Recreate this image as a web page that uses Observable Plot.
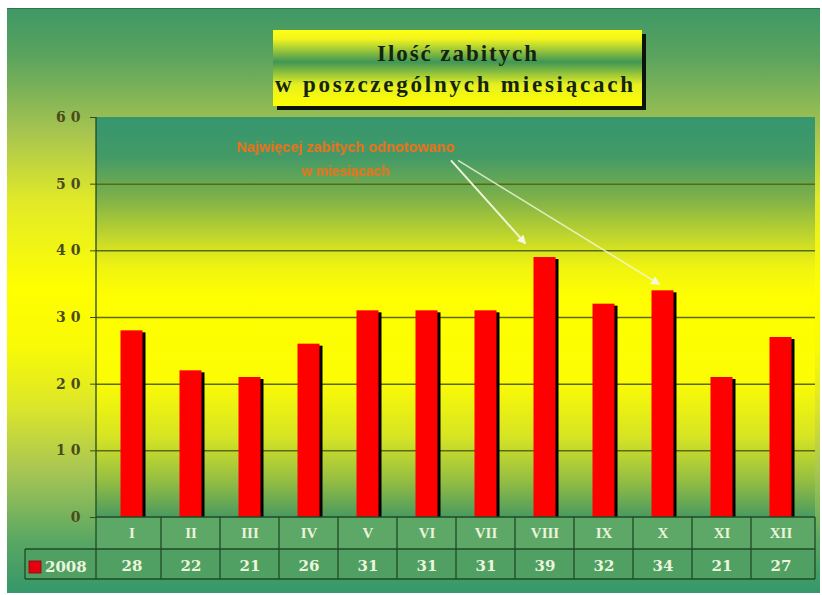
<!DOCTYPE html>
<html>
<head>
<meta charset="utf-8">
<script src="https://cdn.jsdelivr.net/npm/d3@7"></script>
<script src="https://cdn.jsdelivr.net/npm/@observablehq/plot@0.6"></script>
<style>
  html, body { margin: 0; padding: 0; background: #fff; }
  #chart { position: relative; width: 822px; height: 595px; overflow: hidden; background: #fff; }
  #panel {
    position: absolute; left: 7px; top: 8px; width: 813px; height: 585px;
    border-top: 1px solid #2e7650; box-sizing: border-box;
    background: linear-gradient(to bottom,
      #3f9866 0%, #5aa35e 8%, #a6c450 21%, #e2ea28 33%, #ffff00 48%,
      #f8fa06 58%, #dce62a 68%, #a8c653 79%, #5aa763 91%, #35976a 100%);
  }
  #plot, #title { position: absolute; left: 0; top: 0; }
</style>
</head>
<body>
<div id="chart">
  <div id="panel"></div>
  <div id="plot"></div>
  <svg id="title" width="822" height="120"></svg>
</div>
<script>
// Monthly road deaths, 2008
const months = ["I", "II", "III", "IV", "V", "VI", "VII", "VIII", "IX", "X", "XI", "XII"];
const killed2008 = [28, 22, 21, 26, 31, 31, 31, 39, 32, 34, 21, 27];
const yTicks = [0, 10, 20, 30, 40, 50, 60];
const seriesLabel = "2008";
const titleLines = ["Ilość zabitych", "w poszczególnych miesiącach"];
const noteLines = ["Najwięcej zabitych odnotowano", "w miesiącach"];
const noteTargets = ["VIII", "X"];

const data = months.map((month, i) => ({month, value: killed2008[i]}));

const serif = "'DejaVu Serif', serif";
const timesLike = "'Liberation Serif', serif";

// Yellow-green gradient behind the plotting area
function plotBackground(index, scales, values, dims) {
  const g = d3.create("svg:g");
  const grad = g.append("defs").append("linearGradient")
    .attr("id", "plot-bg").attr("x1", 0).attr("y1", 0).attr("x2", 0).attr("y2", 1);
  [[0, "#35966f"], [0.1, "#439a66"], [0.2, "#7cb04a"], [0.3, "#c2d62c"], [0.37, "#eef212"],
   [0.45, "#ffff00"], [0.66, "#fcfc04"], [0.8, "#d6e424"], [0.91, "#94bd42"], [1, "#4a9a60"]]
    .forEach(([o, c]) => grad.append("stop").attr("offset", o).attr("stop-color", c));
  g.append("rect")
    .attr("x", dims.marginLeft).attr("y", dims.marginTop)
    .attr("width", dims.width - dims.marginLeft - dims.marginRight)
    .attr("height", dims.height - dims.marginTop - dims.marginBottom)
    .attr("fill", "url(#plot-bg)");
  return g.node();
}

// Data table under the bars: month row, value row with the series key
function dataTable(index, scales, values, dims) {
  const g = d3.create("svg:g");
  const x = scales.x;
  const left = dims.marginLeft, right = dims.width - dims.marginRight;
  const top = scales.y(0), mid = top + 32, bottom = mid + 30, keyLeft = 25;
  g.append("rect").attr("x", left).attr("y", top).attr("width", right - left).attr("height", mid - top).attr("fill", "#5da866");
  g.append("rect").attr("x", keyLeft).attr("y", mid).attr("width", right - keyLeft).attr("height", bottom - mid).attr("fill", "#51a063");
  const line = (x1, y1, x2, y2) => g.append("line")
    .attr("x1", x1).attr("y1", y1).attr("x2", x2).attr("y2", y2)
    .attr("stroke", "#1f4a26").attr("stroke-width", 1.3);
  line(left, top, right, top);
  line(keyLeft, mid, right, mid);
  line(keyLeft, bottom, right, bottom);
  line(keyLeft, mid, keyLeft, bottom);
  months.forEach((m, i) => { if (i > 0) line(x(m), top, x(m), bottom); });
  line(right, top, right, bottom);
  line(left, dims.marginTop, left, bottom);
  // series key
  g.append("rect").attr("x", keyLeft + 4).attr("y", mid + 12).attr("width", 12).attr("height", 12)
    .attr("fill", "#e8000e").attr("stroke", "#8a0010").attr("stroke-width", 0.8);
  g.append("text").attr("x", keyLeft + 20).attr("y", mid + 17.5).attr("dy", "0.36em")
    .attr("text-anchor", "start")
    .attr("font-family", serif).attr("font-weight", "bold").attr("font-size", 15)
    .attr("fill", "#eaf5dc").text(seriesLabel);
  return g.node();
}

// Annotation pointing at the two highest months
function annotation(index, scales, values, dims) {
  const g = d3.create("svg:g");
  const x = scales.x, y = scales.y, bw = x.bandwidth();
  const defs = g.append("defs");
  defs.append("filter").attr("id", "soft").append("feGaussianBlur").attr("stdDeviation", 0.5);
  defs.append("marker").attr("id", "head").attr("viewBox", "0 0 10 10")
    .attr("refX", 9).attr("refY", 5).attr("markerWidth", 9).attr("markerHeight", 9)
    .attr("markerUnits", "userSpaceOnUse").attr("orient", "auto")
    .append("path").attr("d", "M0,0L10,5L0,10z").attr("fill", "#f2f9dc");
  const cx = x("V") + 8;
  const text = g.append("g").attr("filter", "url(#soft)")
    .attr("font-family", "'Liberation Sans', sans-serif").attr("font-weight", "bold")
    .attr("font-size", 14).attr("fill", "#f5701a").attr("text-anchor", "middle");
  text.append("text").attr("x", cx).attr("y", y(54.8))
    .attr("textLength", 218).attr("lengthAdjust", "spacingAndGlyphs").text(noteLines[0]);
  text.append("text").attr("x", cx).attr("y", y(51.2))
    .attr("textLength", 88).attr("lengthAdjust", "spacingAndGlyphs").text(noteLines[1]);
  const lift = {VIII: [-19, 2], X: [-3, 0.9]};
  noteTargets.forEach((m, i) => {
    const v = killed2008[months.indexOf(m)];
    const [ox, oy] = lift[m];
    g.append("line")
      .attr("x1", x("VII") - 5 + i * 7).attr("y1", y(53.5))
      .attr("x2", x(m) + bw / 2 + ox).attr("y2", y(v + oy))
      .attr("stroke", "#f2f9dc").attr("stroke-width", i === 0 ? 2 : 1.6)
      .attr("stroke-opacity", i === 0 ? 0.95 : 0.8)
      .attr("marker-end", "url(#head)");
  });
  return g.node();
}

const barInset = 18.5;

const svg = Plot.plot({
  width: 822,
  height: 595,
  marginTop: 117,
  marginBottom: 78,
  marginLeft: 96,
  marginRight: 7,
  style: {background: "transparent", overflow: "visible"},
  x: {domain: months, padding: 0, axis: null},
  y: {domain: [0, 60]},
  marks: [
    plotBackground,
    Plot.ruleY(yTicks.filter(t => t > 0 && t < 60), {stroke: "#5b6a12", strokeWidth: 1.5}),
    Plot.barY(data, {x: "month", y: "value", fill: "#000", dx: 3, dy: 2, insetLeft: barInset, insetRight: barInset}),
    Plot.barY(data, {x: "month", y: "value", fill: "#ff0000", insetLeft: barInset, insetRight: barInset}),
    dataTable,
    Plot.text(data, {x: "month", y: 0, dy: 16, text: "month", fontFamily: timesLike, fontWeight: "bold", fontSize: 15, fill: "#eaf5dc"}),
    Plot.text(data, {x: "month", y: 0, dy: 49, text: d => String(d.value), fontFamily: serif, fontWeight: "bold", fontSize: 15, fill: "#eaf5dc"}),
    Plot.axisY({ticks: yTicks, tickSize: 6, tickPadding: 5, label: null, fontFamily: serif, fontWeight: "bold", fontSize: 14, fill: "#4a4a1c", stroke: "#3b4a1c"}),
    annotation
  ]
});

d3.select(svg).selectAll("[aria-label='y-axis tick label'] text").style("letter-spacing", "5px");
document.getElementById("plot").appendChild(svg);

// Title box with drop shadow
const t = d3.select("#title");
const tg = t.append("defs").append("linearGradient").attr("id", "title-bg")
  .attr("x1", 0).attr("y1", 0).attr("x2", 0).attr("y2", 1);
[[0, "#ffff10"], [0.12, "#f2f41e"], [0.42, "#3f9656"], [0.72, "#e6f020"], [1, "#ffff00"]]
  .forEach(([o, c]) => tg.append("stop").attr("offset", o).attr("stop-color", c));
t.append("rect").attr("x", 277).attr("y", 34).attr("width", 369).attr("height", 76).attr("fill", "#0a140a");
t.append("rect").attr("x", 273).attr("y", 30).attr("width", 369).attr("height", 76).attr("fill", "url(#title-bg)");
const tt = t.append("g").attr("font-family", timesLike).attr("font-weight", "bold")
  .attr("font-size", 23).attr("fill", "#142410").attr("text-anchor", "middle");
tt.append("text").attr("x", 457).attr("y", 61).attr("textLength", 160).attr("lengthAdjust", "spacing").text(titleLines[0]);
tt.append("text").attr("x", 454).attr("y", 92).attr("textLength", 358).attr("lengthAdjust", "spacing").text(titleLines[1]);
</script>
</body>
</html>
